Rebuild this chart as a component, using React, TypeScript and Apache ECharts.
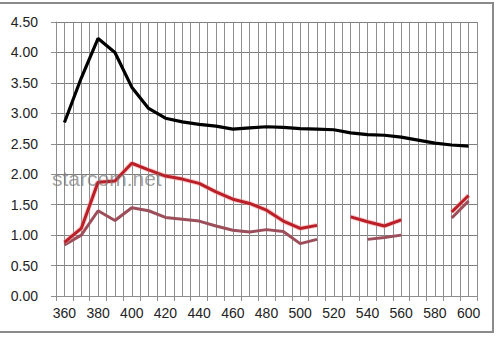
import React, { useEffect, useRef } from "react";
import * as echarts from "echarts";

const wavelengths = [360, 370, 380, 390, 400, 410, 420, 430, 440, 450, 460, 470, 480, 490, 500, 510, 520, 530, 540, 550, 560, 570, 580, 590, 600];
const blackValues = [2.85, 3.58, 4.23, 4.0, 3.43, 3.08, 2.92, 2.86, 2.82, 2.79, 2.74, 2.76, 2.78, 2.77, 2.75, 2.74, 2.73, 2.68, 2.65, 2.64, 2.61, 2.56, 2.51, 2.48, 2.46];
const redValues: (number | null)[] = [0.88, 1.11, 1.87, 1.89, 2.18, 2.07, 1.97, 1.92, 1.85, 1.71, 1.59, 1.52, 1.41, 1.23, 1.11, 1.16, null, 1.3, 1.22, 1.15, 1.25, null, null, 1.38, 1.65];
const mauveValues: (number | null)[] = [0.84, 1.0, 1.4, 1.24, 1.45, 1.4, 1.29, 1.26, 1.23, 1.15, 1.08, 1.05, 1.09, 1.06, 0.86, 0.93, null, null, 0.93, 0.96, 1.0, null, null, 1.28, 1.56];
const yTicks = [0, 0.5, 1, 1.5, 2, 2.5, 3, 3.5, 4, 4.5];
const xLabelStep = 20;

const toPairs = (vals: (number | null)[]) =>
  wavelengths.map((w, i) => [w, vals[i] === null ? "-" : vals[i]]);

export default function App() {
  const ref = useRef<HTMLDivElement>(null);
  useEffect(() => {
    if (!ref.current) return;
    const chart = echarts.init(ref.current, null, { renderer: "svg" });
    const gridColor = "#8e8e8e";
    const font = "Liberation Sans";
    chart.setOption({
      animation: false,
      backgroundColor: "#ffffff",
      grid: { left: 56, right: 24, top: 22, bottom: 42, containLabel: false },
      xAxis: [
        {
          type: "value",
          min: 355,
          max: 605,
          interval: 5,
          axisLine: { show: true, lineStyle: { color: gridColor, width: 1 } },
          axisTick: { show: false },
          splitLine: { show: true, lineStyle: { color: gridColor, width: 1 } },
          axisLabel: {
            margin: 10,
            color: "#222",
            fontSize: 14,
            fontFamily: font,
            formatter: (v: number) =>
              v >= wavelengths[0] && v <= wavelengths[wavelengths.length - 1] && v % xLabelStep === 0 ? String(v) : "",
          },
        },
        {
          type: "value",
          position: "bottom",
          min: 355,
          max: 605,
          interval: 10,
          axisLine: { show: false },
          axisTick: { show: true, length: 5, lineStyle: { color: gridColor } },
          splitLine: { show: false },
          axisLabel: { show: false },
        },
      ],
      yAxis: {
        type: "value",
        min: yTicks[0],
        max: yTicks[yTicks.length - 1],
        interval: 0.5,
        axisLine: { show: true, lineStyle: { color: gridColor } },
        axisTick: { show: true, length: 5, lineStyle: { color: gridColor } },
        splitLine: { show: true, lineStyle: { color: "#7f7f7f", width: 1 } },
        axisLabel: {
          margin: 18,
          color: "#222",
          fontSize: 14,
          fontFamily: font,
          formatter: (v: number) => v.toFixed(2),
        },
      },
      series: [
        {
          type: "line",
          data: wavelengths.map((w, i) => [w, blackValues[i]]),
          showSymbol: false,
          symbol: "none",
          lineStyle: { color: "#000000", width: 3.2 },
          z: 5,
        },
        {
          type: "line",
          data: toPairs(mauveValues),
          showSymbol: false,
          symbol: "none",
          connectNulls: false,
          lineStyle: { color: "#9c4e5a", width: 3 },
          z: 3,
        },
        {
          type: "line",
          data: toPairs(redValues),
          showSymbol: false,
          symbol: "none",
          connectNulls: false,
          lineStyle: { color: "#f19a9a", width: 5, opacity: 0.5 },
          z: 3,
          silent: true,
        },
        {
          type: "line",
          data: toPairs(redValues),
          showSymbol: false,
          symbol: "none",
          connectNulls: false,
          lineStyle: { color: "#bb1f28", width: 3 },
          z: 4,
        },
      ],
      graphic: [
        {
          type: "rect",
          shape: { x: -1, y: 3, width: 494, height: 329 },
          style: { fill: "none", stroke: "#8a8a8a", lineWidth: 2 },
          z: 10,
        },
        {
          type: "text",
          x: 52,
          y: 168,
          style: {
            text: "starcom.net",
            fill: "rgba(110,110,110,0.65)",
            fontSize: 21,
            fontFamily: font,
          },
          z: 10,
        },
      ],
    });
    return () => chart.dispose();
  }, []);
  return <div ref={ref} style={{ width: 501, height: 338, position: "absolute", left: 0, top: 0 }} />;
}
